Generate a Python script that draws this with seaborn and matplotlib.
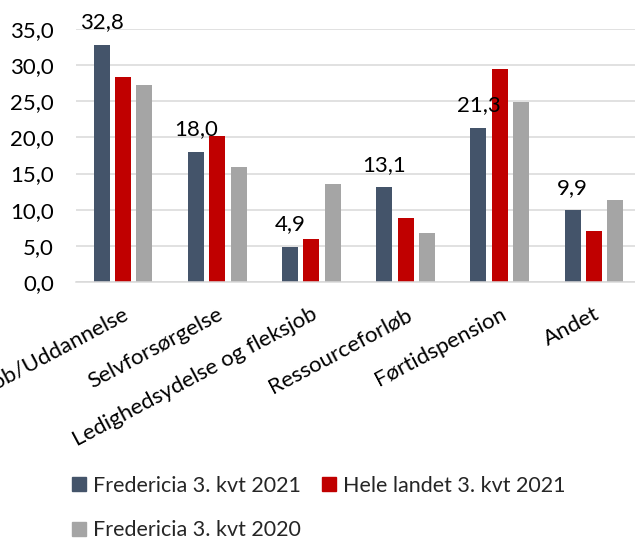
import matplotlib
matplotlib.use('Agg')
import matplotlib.pyplot as plt
import seaborn as sns
import pandas as pd
from matplotlib.ticker import FuncFormatter
from matplotlib.patches import Patch

categories = ['Job/Uddannelse', 'Selvforsørgelse', 'Ledighedsydelse og fleksjob',
              'Ressourceforløb', 'Førtidspension', 'Andet']
series = ['Fredericia 3. kvt 2021', 'Hele landet 3. kvt 2021', 'Fredericia 3. kvt 2020']
fredericia_2021 = [32.8, 18.0, 4.9, 13.1, 21.3, 9.9]
hele_landet_2021 = [28.3, 20.2, 6.0, 8.8, 29.5, 7.1]
fredericia_2020 = [27.2, 15.9, 13.6, 6.8, 24.9, 11.3]
colors = ['#44546A', '#C00000', '#A5A5A5']
yticks = [0, 5, 10, 15, 20, 25, 30, 35]

rows = []
for name, vals in zip(series, [fredericia_2021, hele_landet_2021, fredericia_2020]):
    for cat, v in zip(categories, vals):
        rows.append({'kategori': cat, 'serie': name, 'andel': v})
df = pd.DataFrame(rows)

sns.set_theme(style='white')
plt.rcParams['font.family'] = ['Lato', 'DejaVu Sans']

fig = plt.figure(figsize=(6.35, 5.43), dpi=100)
ax = fig.add_axes([0.1197, 0.4807, 0.8897, 0.4659])

sns.barplot(data=df, x='kategori', y='andel', hue='serie', order=categories,
            hue_order=series, palette=colors, width=0.68, gap=0.25,
            linewidth=0, saturation=1, ax=ax, legend=False)

ax.set_ylim(0, 35)
ax.set_xlim(-0.5, len(categories) - 0.5)
ax.set_yticks(yticks)
ax.yaxis.set_major_formatter(FuncFormatter(lambda v, p: f'{v:.1f}'.replace('.', ',')))
ax.grid(axis='y', color='#D9D9D9', linewidth=1.1)
ax.set_axisbelow(True)
for s in ['left', 'right', 'top']:
    ax.spines[s].set_visible(False)
ax.spines['bottom'].set_color('#D9D9D9')
ax.spines['bottom'].set_linewidth(1.1)
ax.set_xlabel('')
ax.set_ylabel('')
ax.tick_params(axis='y', length=0, pad=16, labelsize=16, labelcolor='black')
ax.tick_params(axis='x', length=0, pad=16, labelsize=16, labelcolor='black')
plt.setp(ax.get_xticklabels(), rotation=28, ha='right', va='top', rotation_mode='anchor')

# data labels only on the first series
lbls = [f'{v:.1f}'.replace('.', ',') for v in fredericia_2021]
ax.bar_label(ax.containers[0], labels=lbls, padding=9, fontsize=16, color='black')

handles = [Patch(color=colors[0]), Patch(color=colors[2]), Patch(color=colors[1])]
labels = [series[0], series[2], series[1]]
fig.legend(handles, labels, loc='upper left', bbox_to_anchor=(0.114, 0.124), ncol=2,
           frameon=False, fontsize=15.5, handlelength=0.65, handleheight=0.65,
           handletextpad=0.3, columnspacing=1.0, labelspacing=1.15, borderpad=0,
           borderaxespad=0)

fig.savefig('out.png', dpi=100)
